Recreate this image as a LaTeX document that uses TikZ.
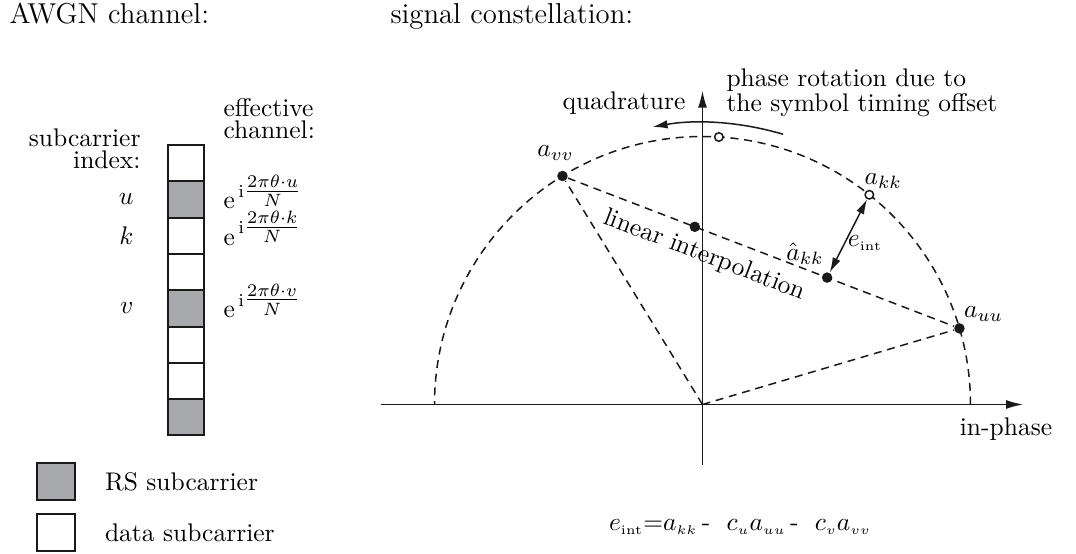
\RequirePackage{fix-cm}
\documentclass[tikz,border=0pt]{standalone}
\usepackage{amsmath}
\usepackage{xcolor}
\usepackage{tikz}
\usetikzlibrary{arrows.meta,positioning,calc}
\definecolor{cRS}{HTML}{A7A9AC}
\definecolor{cInk}{HTML}{1A1A1A}
\newcommand{\ssub}[1]{_{\scriptscriptstyle #1}}
\tikzset{
  cell/.style     = {draw=cInk, line width=0.8pt, minimum width=14.4pt,
                     minimum height=14.52pt, outer sep=0pt, inner sep=0pt},
  rscell/.style   = {cell, fill=cRS},
  datacell/.style = {cell, fill=white},
  lbl/.style      = {inner sep=1pt, font=\fontsize{10.2}{8.8}\selectfont},
  title/.style    = {inner sep=1pt, font=\fontsize{11.5}{14}\selectfont},
  axis/.style     = {-{Latex[length=6.8pt,width=3.6pt]}, line width=0.6pt, draw=cInk},
  guide/.style    = {dash pattern=on 3.2pt off 2.3pt, line width=0.6pt, draw=cInk},
  dot/.style      = {circle, fill=cInk, inner sep=0pt, minimum size=4.2pt},
  odot/.style     = {circle, draw=cInk, fill=white, line width=0.6pt,
                     inner sep=0pt, minimum size=3.4pt},
  flow/.style     = {-{Latex[length=6pt,width=3.4pt]}, line width=0.6pt, draw=cInk},
  errflow/.style  = {{Latex[length=6pt,width=3.4pt]}-{Latex[length=6pt,width=3.4pt]},
                     line width=0.6pt, draw=cInk},
}
\begin{document}
\begin{tikzpicture}[x=0.4pt, y=0.4pt]
  \useasboundingbox (0,0) rectangle (1076,554);
  % ---- titles ----
  \node[title, anchor=base west] (ttlch) at (6.5,530.7) {AWGN channel:};
  \node[title, anchor=base west] (ttlcon) at (387.5,530.7) {signal constellation:};
  % ---- subcarrier column ----
  \node[datacell] (c1) at (186,390.8) {};
  \node[rscell, below=0pt of c1] (c2) {};
  \node[datacell, below=0pt of c2] (c3) {};
  \node[datacell, below=0pt of c3] (c4) {};
  \node[rscell, below=0pt of c4] (c5) {};
  \node[datacell, below=0pt of c5] (c6) {};
  \node[datacell, below=0pt of c6] (c7) {};
  \node[rscell, below=0pt of c7] (c8) {};
  \node[lbl, align=right, anchor=east] (idx) at (143.5,405) {subcarrier\\index:};
  \node[lbl, align=left, anchor=west] (eff) at (220.5,435.5) {effective\\channel:};
  \node[lbl, left=12.6pt of c2] (lu) {$u$};
  \node[lbl, left=12.6pt of c3] (lk) {$k$};
  \node[lbl, left=12.6pt of c5] (lv) {$v$};
  \node[lbl, anchor=base west] (hu) at ($(c2.east)+(16.5,-9.5)$)
    {$\mathrm{e}^{\,\mathrm{i}\tfrac{2\pi\theta\cdot u}{N}}$};
  \node[lbl, anchor=base west] (hk) at ($(c3.east)+(16.5,-9.5)$)
    {$\mathrm{e}^{\,\mathrm{i}\tfrac{2\pi\theta\cdot k}{N}}$};
  \node[lbl, anchor=base west] (hv) at ($(c5.east)+(16.5,-9.5)$)
    {$\mathrm{e}^{\,\mathrm{i}\tfrac{2\pi\theta\cdot v}{N}}$};
  % ---- legend ----
  \node[rscell, minimum width=14.8pt, minimum height=14.8pt] (legrs) at (56,72.5) {};
  \node[datacell, minimum width=14.8pt, minimum height=14.8pt, below=5.6pt of legrs] (legdata) {};
  \node[lbl, right=11pt of legrs] (txtrs) {RS subcarrier};
  \node[lbl, right=11pt of legdata] (txtdata) {data subcarrier};
  % ---- constellation ----
  \coordinate (O) at (702.5,149.5);
  \coordinate (iwest) at (380.7,149.5);
  \coordinate (ieast) at (1023,149.5);
  \coordinate (qsouth) at (702.5,89);
  \coordinate (qnorth) at (702.5,463.3);
  \draw[guide] ($(O)+(268,0)$) arc[start angle=0, end angle=180, radius=268];
  \draw[axis] (iwest) -- (ieast);
  \draw[axis] (qsouth) -- (qnorth);
  \node[dot] (avv) at ($(O)+(121.5:268)$) {};
  \node[dot] (auu) at ($(O)+(16.5:268)$) {};
  \node[odot] (akk) at ($(O)+(51.5:268)$) {};
  \node[odot] (arot) at ($(O)+(86.5:268)$) {};
  \draw[guide] (O) -- (avv);
  \draw[guide] (O) -- (auu);
  \draw[guide] (avv) -- node[lbl, sloped, below=3.5pt, pos=0.375] {linear interpolation} (auu);
  \node[dot] (amid) at ($(avv)!1/3!(auu)$) {};
  \node[dot] (ahat) at ($(avv)!2/3!(auu)$) {};
  \draw[errflow] (akk) -- node[lbl, right, pos=0.6] {$e\ssub{\mathrm{int}}$} (ahat);
  \draw[flow] ($(O)+(73.4:282)$) arc[start angle=73.4, end angle=100.2, radius=282];
  % ---- labels ----
  \node[lbl] (lavv) at ($(avv)+(-7,23)$) {$a_{vv}$};
  \node[lbl] (lakk) at ($(akk)+(14,14)$) {$a_{kk}$};
  \node[lbl] (lahat) at ($(ahat)+(-22,24)$) {$\hat{a}_{kk}$};
  \node[lbl] (lauu) at ($(auu)+(24,14)$) {$a_{uu}$};
  \node[lbl] (lin) at (1006,125) {in-phase};
  \node[lbl] (lquad) at (624,451) {quadrature};
  \node[lbl, align=left, anchor=west] (lrot) at (723.5,461.5)
    {phase rotation due to\\the symbol timing offset};
  \node[lbl] (eqn) at (740,27)
    {$e\ssub{\mathrm{int}}{=}a\ssub{kk}$\,-\hspace{6.5pt}$c\ssub{u}a\ssub{uu}$\,-\hspace{6.5pt}$c\ssub{v}a\ssub{vv}$};
\end{tikzpicture}
\end{document}
